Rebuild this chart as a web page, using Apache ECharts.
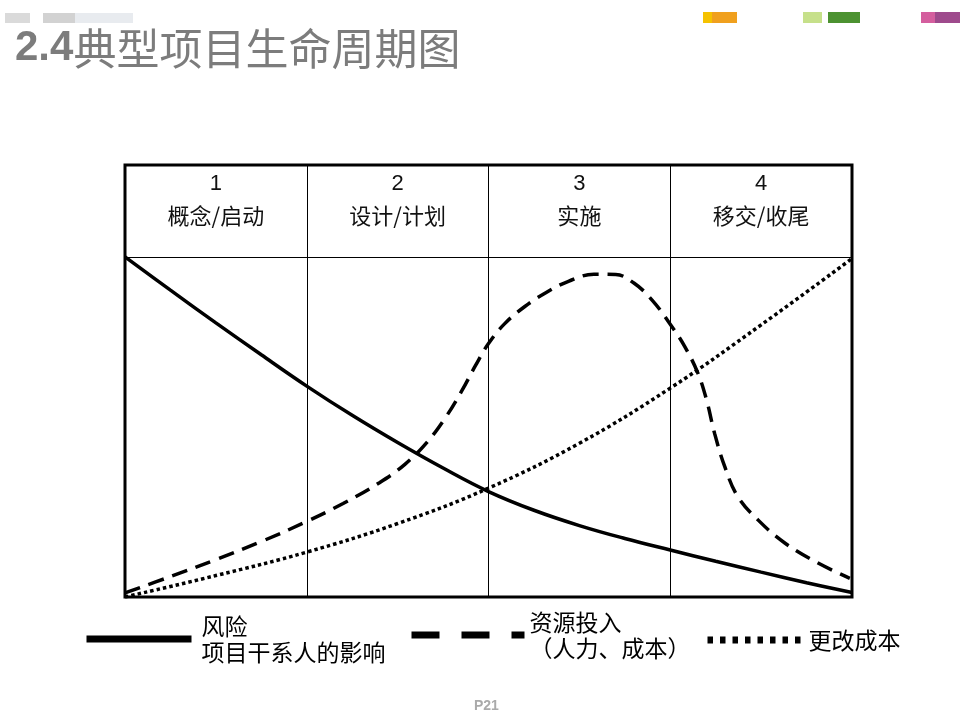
<!DOCTYPE html>
<html>
<head>
<meta charset="utf-8">
<title>2.4典型项目生命周期图</title>
<script src="https://cdn.jsdelivr.net/npm/echarts@6/dist/echarts.min.js"></script>
<style>
    html, body { margin: 0; padding: 0; background: #fff; }
    #chart { width: 960px; height: 720px; }
</style>
</head>
<body>
<div id="chart"></div>
<script>
// 阶段表头
const phaseNums = ['1', '2', '3', '4'];
const phaseNames = ['概念/启动', '设计/计划', '实施', '移交/收尾'];

// 曲线数据：[生命周期进度 %, 相对水平 0-100（100 = 表头下沿）]
const riskData = [
    [0, 100], [6.25, 90.2], [12.5, 80.6], [18.75, 71.2], [25, 62], [31.25, 53.4],
    [37.5, 45.4], [43.75, 37.9], [50, 31], [56.25, 25.5], [62.5, 21],
    [68.75, 17.2], [75, 13.8], [81.25, 10.5], [87.5, 7.3], [93.75, 4.2], [100, 1.3]
];
const resourceData = [
    [0, 1.2], [6.25, 6], [12.5, 11], [18.75, 16.3], [25, 22.2], [30, 27.5],
    [35, 33.6], [38.5, 39], [41.5, 45.4], [44, 52.5], [46.3, 60.5], [48.2, 68],
    [50, 74.5], [52.2, 80.3], [55, 85.4], [58, 89.6], [61, 92.8], [64.5, 94.9],
    [67.5, 94.8], [70, 92.3], [72.5, 87.3], [74.9, 80.5], [77, 73.6], [78.8, 65.8],
    [80, 57.9], [81.1, 48.1], [82.5, 38.3], [84.3, 29.5], [87.1, 22.6],
    [90.8, 15.8], [95.4, 9.9], [99.7, 5.5]
];
const changeCostData = [
    [0, 0], [12.5, 6.3], [25, 13.2], [37.5, 21.6], [50, 32], [62.5, 45.2],
    [75, 61.4], [87.5, 80], [100, 99.5]
];

// 图例
const seriesNames = ['风险', '资源投入', '更改成本'];
const legendLabels = ['风险\n项目干系人的影响', '资源投入\n（人力、成本）', '更改成本'];

const cjkFont = '"Noto Sans CJK SC", "Noto Sans", sans-serif';

function makeLegend(i, left, top, width, lineType, textPad) {
    return {
        data: [{
            name: seriesNames[i],
            lineStyle: { width: 7, type: lineType, color: '#000', cap: 'butt' },
            itemStyle: { opacity: 0 }
        }],
        left: left,
        top: top,
        padding: 0,
        itemWidth: width,
        itemHeight: 8,
        selectedMode: false,
        formatter: function() { return legendLabels[i]; },
        textStyle: {
            fontFamily: cjkFont, fontSize: 23, lineHeight: 26, color: '#000',
            padding: [0, 0, 0, textPad]
        }
    };
}

function makeSeries(i, data, lineType) {
    return {
        name: seriesNames[i],
        type: 'line',
        data: data,
        smooth: 0.4,
        symbol: 'none',
        silent: true,
        lineStyle: { color: '#000', width: 3.5, type: lineType, cap: 'butt' }
    };
}

const chart = echarts.init(document.getElementById('chart'));

const option = {
    animation: false,
    backgroundColor: '#fff',
    title: {
        text: '{a|2.4}{b|典型项目生命周期图}',
        left: 10,
        top: 22,
        textStyle: {
            rich: {
                a: { fontFamily: 'Arial, "Liberation Sans"', fontWeight: 'bold', fontSize: 42, color: '#7c7c7c' },
                b: { fontFamily: cjkFont, fontWeight: 'normal', fontSize: 43, color: '#7c7c7c' }
            }
        }
    },
    graphic: [
        { type: 'rect', shape: { x: 5, y: 13, width: 25, height: 10 }, style: { fill: '#dadada' } },
        { type: 'rect', shape: { x: 43, y: 13, width: 32, height: 10 }, style: { fill: '#d2d2d2' } },
        { type: 'rect', shape: { x: 75, y: 13, width: 58, height: 10 }, style: { fill: '#e8ebef' } },
        { type: 'rect', shape: { x: 703, y: 12, width: 9, height: 11 }, style: { fill: '#f5c200' } },
        { type: 'rect', shape: { x: 712, y: 12, width: 25, height: 11 }, style: { fill: '#f0a01e' } },
        { type: 'rect', shape: { x: 803, y: 12, width: 19, height: 11 }, style: { fill: '#c6e08a' } },
        { type: 'rect', shape: { x: 828, y: 12, width: 32, height: 11 }, style: { fill: '#4c9231' } },
        { type: 'rect', shape: { x: 921, y: 12, width: 14, height: 11 }, style: { fill: '#d45e9e' } },
        { type: 'rect', shape: { x: 935, y: 12, width: 25, height: 11 }, style: { fill: '#9e4a8c' } },
        { type: 'text', left: 474, top: 699, style: { text: 'P21', fill: '#aaaaaa', font: 'bold 14px Arial' } }
    ],
    grid: {
        left: 125,
        right: 108,
        top: 165,
        bottom: 123,
        show: true,
        borderColor: '#000',
        borderWidth: 3,
        outerBoundsMode: 'none'
    },
    xAxis: [
        {
            type: 'value',
            min: 0,
            max: 100,
            interval: 25,
            axisLine: { show: false },
            axisTick: { show: false },
            axisLabel: { show: false },
            splitLine: { show: true, lineStyle: { color: '#000', width: 1 } }
        },
        {
            type: 'category',
            position: 'top',
            data: phaseNums,
            boundaryGap: true,
            axisLine: { show: false },
            axisTick: { show: false },
            splitLine: { show: false },
            axisLabel: {
                inside: true,
                margin: 4,
                interval: 0,
                formatter: function(v, i) {
                    return '{n|' + v + '}\n{t|' + phaseNames[i] + '}';
                },
                rich: {
                    n: { fontFamily: 'Arial, "Liberation Sans"', fontSize: 22, lineHeight: 30, color: '#111' },
                    t: { fontFamily: cjkFont, fontSize: 22, lineHeight: 34, color: '#111' }
                }
            }
        }
    ],
    yAxis: {
        type: 'value',
        min: 0,
        max: 127,
        interval: 100,
        axisLine: { show: false },
        axisTick: { show: false },
        axisLabel: { show: false },
        splitLine: { show: true, lineStyle: { color: '#000', width: 1 } }
    },
    legend: [
        makeLegend(0, 83, 613, 105, 'solid', 5),
        makeLegend(1, 408, 609, 113, [28, 22], 0),
        makeLegend(2, 704, 627, 96, [5.5, 7], 0)
    ],
    series: [
        makeSeries(0, riskData, 'solid'),
        makeSeries(1, resourceData, [16, 9]),
        makeSeries(2, changeCostData, [3.5, 3])
    ]
};

chart.setOption(option);

window.addEventListener('resize', function() {
    chart.resize();
});
</script>
</body>
</html>
